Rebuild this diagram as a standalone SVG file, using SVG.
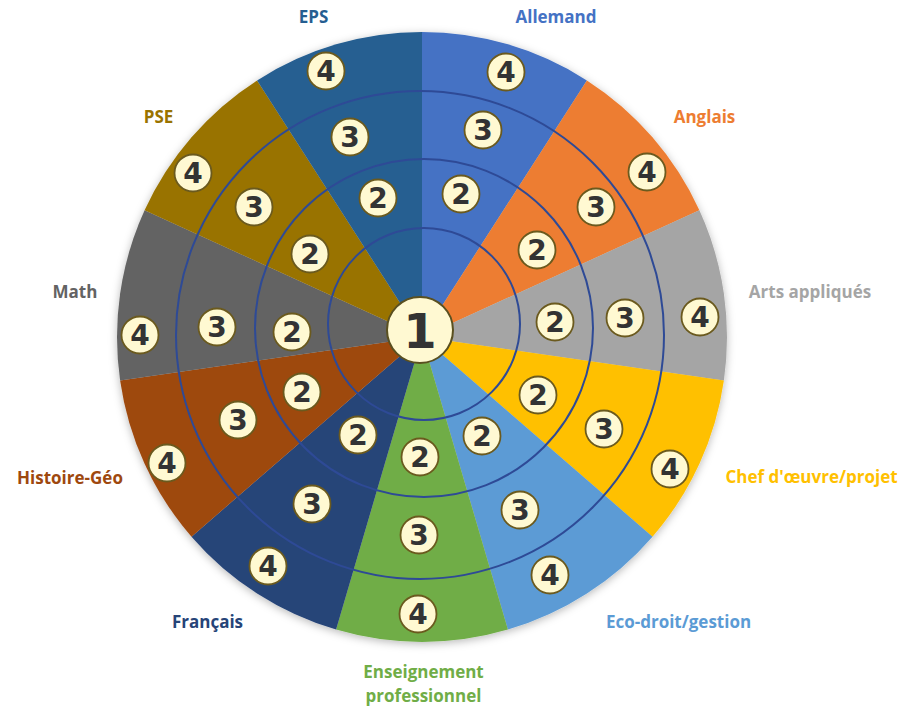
<svg xmlns="http://www.w3.org/2000/svg" width="900" height="709" viewBox="0 0 900 709">
<defs>
<filter id="shadow" x="-10%" y="-10%" width="120%" height="120%">
<feDropShadow dx="0" dy="2" stdDeviation="4" flood-color="#000" flood-opacity="0.28"/>
</filter>
<style>
.lbl{font-family:"Open Sans","Liberation Sans",sans-serif;font-weight:700;font-size:17px;text-anchor:middle}
.b circle{fill:#FFF9D2;stroke:#6B5A1E;stroke-width:1.8}
.b text{font-family:"DejaVu Sans","Liberation Sans",sans-serif;font-weight:700;font-size:28px;fill:#333;text-anchor:middle}
.ring{fill:none;stroke:#2E4A96;stroke-width:2}
</style>
</defs>
<rect width="900" height="709" fill="#fff"/>
<g id="pie" filter="url(#shadow)">
<path d="M422,337 L422,32 A305,305 0 0 1 586.9,80.4 Z" fill="#4472C4"/>
<path d="M422,337 L586.9,80.4 A305,305 0 0 1 699.4,210.3 Z" fill="#ED7D31"/>
<path d="M422,337 L699.4,210.3 A305,305 0 0 1 723.9,380.4 Z" fill="#A5A5A5"/>
<path d="M422,337 L723.9,380.4 A305,305 0 0 1 652.5,536.7 Z" fill="#FFC000"/>
<path d="M422,337 L652.5,536.7 A305,305 0 0 1 507.9,629.6 Z" fill="#5B9BD5"/>
<path d="M422,337 L507.9,629.6 A305,305 0 0 1 336.1,629.6 Z" fill="#70AD47"/>
<path d="M422,337 L336.1,629.6 A305,305 0 0 1 191.5,536.7 Z" fill="#264478"/>
<path d="M422,337 L191.5,536.7 A305,305 0 0 1 120.1,380.4 Z" fill="#9E480E"/>
<path d="M422,337 L120.1,380.4 A305,305 0 0 1 144.6,210.3 Z" fill="#636363"/>
<path d="M422,337 L144.6,210.3 A305,305 0 0 1 257.1,80.4 Z" fill="#997300"/>
<path d="M422,337 L257.1,80.4 A305,305 0 0 1 422,32 Z" fill="#255E91"/>
</g>
<g id="rings">
<circle class="ring" cx="424" cy="324" r="96"/>
<circle class="ring" cx="424" cy="328" r="169"/>
<circle class="ring" cx="420" cy="335" r="244"/>
</g>
<g id="center">
<circle cx="420" cy="330" r="33" fill="#FFF9D2" stroke="#5A5020" stroke-width="2"/>
<text x="420" y="348" font-family="DejaVu Sans, sans-serif" font-weight="700" font-size="48" fill="#333" text-anchor="middle">1</text>
</g>
<g id="allemand">
<text class="lbl" x="556" y="23" fill="#4472C4">Allemand</text>
<g class="b"><circle cx="506" cy="72" r="18.5"/><text x="506" y="82">4</text></g>
<g class="b"><circle cx="483" cy="130" r="18.5"/><text x="483" y="140">3</text></g>
<g class="b"><circle cx="461" cy="194" r="18.5"/><text x="461" y="204">2</text></g>
</g>
<g id="anglais">
<text class="lbl" x="704.5" y="123" fill="#ED7D31">Anglais</text>
<g class="b"><circle cx="647" cy="172" r="18.5"/><text x="647" y="182">4</text></g>
<g class="b"><circle cx="596" cy="207" r="18.5"/><text x="596" y="217">3</text></g>
<g class="b"><circle cx="537" cy="250" r="18.5"/><text x="537" y="260">2</text></g>
</g>
<g id="arts">
<text class="lbl" x="810" y="298" fill="#A5A5A5">Arts appliqués</text>
<g class="b"><circle cx="700" cy="317" r="18.5"/><text x="700" y="327">4</text></g>
<g class="b"><circle cx="625" cy="318" r="18.5"/><text x="625" y="328">3</text></g>
<g class="b"><circle cx="555" cy="322" r="18.5"/><text x="555" y="332">2</text></g>
</g>
<g id="chef">
<text class="lbl" x="811.5" y="483" fill="#FFC000">Chef d'œuvre/projet</text>
<g class="b"><circle cx="670" cy="469" r="18.5"/><text x="670" y="479">4</text></g>
<g class="b"><circle cx="604" cy="429" r="18.5"/><text x="604" y="439">3</text></g>
<g class="b"><circle cx="538" cy="395" r="18.5"/><text x="538" y="405">2</text></g>
</g>
<g id="eco">
<text class="lbl" x="678.5" y="628" fill="#5B9BD5">Eco-droit/gestion</text>
<g class="b"><circle cx="550" cy="575" r="18.5"/><text x="550" y="585">4</text></g>
<g class="b"><circle cx="520" cy="510" r="18.5"/><text x="520" y="520">3</text></g>
<g class="b"><circle cx="482" cy="436" r="18.5"/><text x="482" y="446">2</text></g>
</g>
<g id="enseignement">
<text class="lbl" x="423.5" y="678" fill="#70AD47">Enseignement</text>
<text class="lbl" x="423.5" y="702" fill="#70AD47">professionnel</text>
<g class="b"><circle cx="418" cy="614" r="18.5"/><text x="418" y="624">4</text></g>
<g class="b"><circle cx="419" cy="535" r="18.5"/><text x="419" y="545">3</text></g>
<g class="b"><circle cx="420" cy="457" r="18.5"/><text x="420" y="467">2</text></g>
</g>
<g id="francais">
<text class="lbl" x="207.5" y="628" fill="#264478">Français</text>
<g class="b"><circle cx="268" cy="566" r="18.5"/><text x="268" y="576">4</text></g>
<g class="b"><circle cx="312" cy="504" r="18.5"/><text x="312" y="514">3</text></g>
<g class="b"><circle cx="358" cy="435" r="18.5"/><text x="358" y="445">2</text></g>
</g>
<g id="histoire">
<text class="lbl" x="70" y="484" fill="#9E480E">Histoire-Géo</text>
<g class="b"><circle cx="167" cy="463" r="18.5"/><text x="167" y="473">4</text></g>
<g class="b"><circle cx="238" cy="420" r="18.5"/><text x="238" y="430">3</text></g>
<g class="b"><circle cx="302" cy="392" r="18.5"/><text x="302" y="402">2</text></g>
</g>
<g id="math">
<text class="lbl" x="75" y="298" fill="#636363">Math</text>
<g class="b"><circle cx="140" cy="335" r="18.5"/><text x="140" y="345">4</text></g>
<g class="b"><circle cx="217" cy="327" r="18.5"/><text x="217" y="337">3</text></g>
<g class="b"><circle cx="292" cy="332" r="18.5"/><text x="292" y="342">2</text></g>
</g>
<g id="pse">
<text class="lbl" x="158.5" y="123" fill="#997300">PSE</text>
<g class="b"><circle cx="193" cy="173" r="18.5"/><text x="193" y="183">4</text></g>
<g class="b"><circle cx="254" cy="207" r="18.5"/><text x="254" y="217">3</text></g>
<g class="b"><circle cx="310" cy="254" r="18.5"/><text x="310" y="264">2</text></g>
</g>
<g id="eps">
<text class="lbl" x="313.5" y="23" fill="#255E91">EPS</text>
<g class="b"><circle cx="326" cy="71" r="18.5"/><text x="326" y="81">4</text></g>
<g class="b"><circle cx="350" cy="137" r="18.5"/><text x="350" y="147">3</text></g>
<g class="b"><circle cx="378" cy="198" r="18.5"/><text x="378" y="208">2</text></g>
</g>
</svg>
